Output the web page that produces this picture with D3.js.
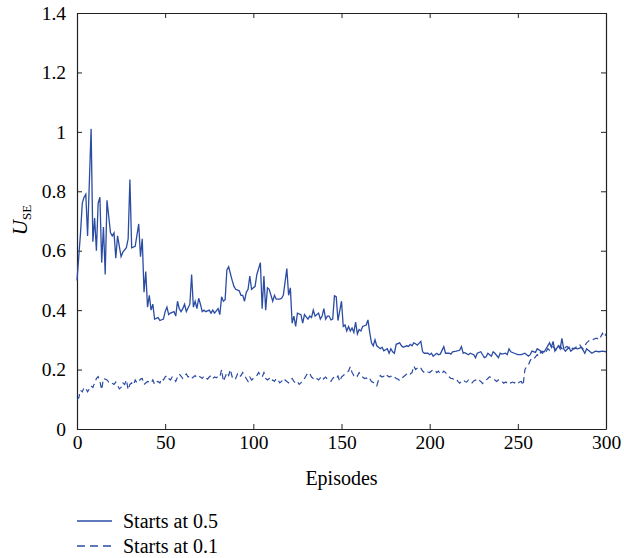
<!DOCTYPE html>
<html>
<head>
<meta charset="utf-8">
<script src="https://cdn.jsdelivr.net/npm/d3@7/dist/d3.min.js"></script>
<style>
  html, body { margin: 0; padding: 0; background: #fff; }
  svg { display: block; }
  svg text { font-family: "Liberation Serif", "Times New Roman", Times, "DejaVu Serif", serif !important; fill: #000; }
</style>
</head>
<body>
<svg id="chart" width="624" height="558"></svg>
<script>
// ---- data ----
const xTicks = [0, 50, 100, 150, 200, 250, 300];
const yTicks = [0, 0.2, 0.4, 0.6, 0.8, 1, 1.2, 1.4];
const seriesNames = ["Starts at 0.5", "Starts at 0.1"];

// Series "Starts at 0.5": episode / value pairs
const solidEpisodes = [0,2,3,4,5,6,8,9,10,11,12,13,14,15,16,17,19,20,21,22,23,25,26,28,29,30,31,33,35,36,37,38,39,40,41,42,43,44,46,47,49,50,51,52,53,55,56,57,58,59,60,61,62,64,65,66,67,68,69,70,71,72,73,75,76,77,78,80,81,82,83,84,85,86,88,89,90,92,93,94,95,96,97,98,99,101,102,104,105,106,107,108,109,111,112,113,115,116,117,119,120,121,122,123,124,125,127,128,129,131,132,133,134,135,137,138,139,140,141,142,143,144,145,146,147,148,150,151,152,153,154,155,156,157,158,159,160,161,162,164,165,166,167,168,169,170,172,173,174,176,177,178,179,180,181,183,184,185,187,188,189,190,191,192,193,195,196,197,199,200,201,202,204,205,206,208,209,211,212,213,215,217,218,219,220,222,223,225,226,227,229,230,231,232,233,235,236,237,239,240,241,243,244,245,246,248,250,252,254,256,257,258,260,261,263,265,266,268,269,270,271,273,274,275,276,277,279,280,282,284,286,288,289,291,292,294,296,298,300];
const solidValues = [0.50,0.66,0.76,0.78,0.79,0.65,1.01,0.63,0.71,0.60,0.76,0.78,0.56,0.68,0.52,0.77,0.66,0.65,0.66,0.575,0.65,0.58,0.595,0.61,0.64,0.84,0.61,0.615,0.69,0.58,0.64,0.46,0.53,0.41,0.45,0.40,0.42,0.37,0.375,0.365,0.37,0.395,0.41,0.385,0.39,0.395,0.38,0.43,0.405,0.395,0.405,0.42,0.395,0.42,0.52,0.41,0.43,0.405,0.44,0.42,0.395,0.40,0.395,0.40,0.39,0.40,0.39,0.405,0.385,0.445,0.43,0.435,0.535,0.546,0.50,0.48,0.47,0.465,0.45,0.45,0.43,0.46,0.47,0.515,0.47,0.48,0.52,0.56,0.405,0.515,0.40,0.475,0.47,0.43,0.45,0.437,0.437,0.44,0.45,0.54,0.45,0.475,0.356,0.38,0.345,0.39,0.385,0.356,0.385,0.37,0.38,0.375,0.40,0.38,0.39,0.37,0.38,0.405,0.37,0.38,0.38,0.367,0.37,0.448,0.445,0.365,0.43,0.345,0.35,0.33,0.345,0.33,0.34,0.325,0.36,0.32,0.335,0.33,0.345,0.35,0.367,0.325,0.29,0.28,0.30,0.28,0.27,0.275,0.263,0.27,0.255,0.27,0.26,0.255,0.285,0.29,0.28,0.275,0.28,0.278,0.285,0.28,0.29,0.287,0.282,0.295,0.26,0.255,0.255,0.25,0.255,0.245,0.255,0.25,0.252,0.277,0.255,0.255,0.252,0.26,0.262,0.265,0.277,0.255,0.257,0.25,0.255,0.25,0.24,0.255,0.26,0.25,0.24,0.243,0.255,0.245,0.26,0.255,0.24,0.255,0.252,0.255,0.25,0.27,0.26,0.255,0.25,0.25,0.255,0.245,0.25,0.262,0.258,0.27,0.262,0.26,0.27,0.29,0.275,0.295,0.262,0.28,0.27,0.305,0.27,0.262,0.275,0.262,0.272,0.27,0.275,0.255,0.27,0.26,0.255,0.262,0.26,0.262,0.26];

// Series "Starts at 0.1": one value per episode 0..300
const dashedValues = [0.10,0.105,0.13,0.125,0.14,0.137,0.125,0.135,0.145,0.14,0.155,0.17,0.176,0.16,0.132,0.17,0.168,0.165,0.158,0.16,0.154,0.15,0.158,0.148,0.135,0.14,0.155,0.15,0.165,0.132,0.15,0.155,0.148,0.165,0.155,0.16,0.168,0.17,0.15,0.155,0.16,0.158,0.155,0.165,0.15,0.158,0.16,0.155,0.17,0.165,0.175,0.18,0.17,0.165,0.175,0.17,0.16,0.175,0.185,0.178,0.17,0.18,0.185,0.175,0.178,0.17,0.175,0.18,0.172,0.177,0.175,0.17,0.178,0.172,0.168,0.175,0.18,0.17,0.175,0.172,0.178,0.175,0.2,0.16,0.175,0.19,0.18,0.2,0.175,0.18,0.17,0.185,0.175,0.18,0.19,0.18,0.17,0.16,0.175,0.165,0.17,0.175,0.18,0.19,0.18,0.175,0.19,0.17,0.165,0.17,0.16,0.165,0.16,0.17,0.165,0.155,0.16,0.17,0.165,0.16,0.155,0.165,0.17,0.16,0.155,0.16,0.15,0.155,0.165,0.17,0.18,0.19,0.187,0.175,0.17,0.175,0.17,0.165,0.172,0.163,0.17,0.175,0.168,0.165,0.16,0.17,0.175,0.17,0.178,0.16,0.175,0.18,0.185,0.19,0.195,0.21,0.19,0.18,0.185,0.178,0.19,0.182,0.175,0.17,0.172,0.165,0.17,0.16,0.157,0.15,0.145,0.165,0.18,0.175,0.178,0.172,0.18,0.175,0.178,0.172,0.175,0.17,0.168,0.163,0.17,0.175,0.18,0.185,0.19,0.185,0.19,0.212,0.2,0.205,0.21,0.205,0.195,0.19,0.195,0.192,0.19,0.195,0.2,0.198,0.19,0.195,0.185,0.187,0.195,0.19,0.18,0.176,0.17,0.17,0.165,0.168,0.16,0.154,0.16,0.165,0.16,0.158,0.165,0.16,0.155,0.162,0.165,0.16,0.165,0.16,0.153,0.16,0.165,0.17,0.176,0.172,0.168,0.165,0.16,0.165,0.165,0.16,0.154,0.158,0.155,0.16,0.155,0.158,0.155,0.16,0.154,0.158,0.16,0.147,0.2,0.21,0.215,0.23,0.238,0.235,0.243,0.25,0.245,0.26,0.255,0.265,0.26,0.27,0.265,0.275,0.277,0.27,0.265,0.275,0.28,0.27,0.265,0.275,0.278,0.27,0.265,0.272,0.27,0.275,0.28,0.285,0.275,0.27,0.28,0.29,0.295,0.3,0.298,0.302,0.305,0.305,0.3,0.31,0.322,0.31,0.32];

(function () {
  const lineColor = "#2b4ca3";
  const svg = d3.select("#chart");
  const mLeft = 77, mRight = 606, mTop = 13, mBottom = 429;

  const x = d3.scaleLinear().domain([0, 300]).range([mLeft, mRight]);
  const y = d3.scaleLinear().domain([0, 1.4]).range([mBottom, mTop]);

  const solidData = solidEpisodes.map((e, i) => [e, solidValues[i]]);
  const dashedData = dashedValues.map((v, i) => [i, v]);

  const line = d3.line().x(d => x(d[0])).y(d => y(d[1]));
  const fmtY = d => (d === 0 || d === 1) ? String(d) : d3.format(".1f")(d);

  const axStyle = g => {
    g.attr("font-family", null);
    g.selectAll("path.domain").attr("stroke", "#222").attr("stroke-width", 1.2);
    g.selectAll(".tick line").attr("stroke", "#222").attr("stroke-width", 1);
    g.selectAll(".tick text").attr("font-size", 19.5).attr("fill", "#000");
  };

  svg.append("g").attr("transform", `translate(0,${mBottom})`)
    .call(d3.axisBottom(x).tickValues(xTicks).tickSizeInner(-5).tickSizeOuter(0).tickPadding(6).tickFormat(d3.format("d")))
    .call(axStyle);
  svg.append("g").attr("transform", `translate(0,${mTop})`)
    .call(d3.axisTop(x).tickValues(xTicks).tickSizeInner(-5).tickSizeOuter(0).tickFormat(""))
    .call(axStyle);
  svg.append("g").attr("transform", `translate(${mLeft},0)`)
    .call(d3.axisLeft(y).tickValues(yTicks).tickSizeInner(-5).tickSizeOuter(0).tickPadding(11).tickFormat(fmtY))
    .call(axStyle);
  svg.append("g").attr("transform", `translate(${mRight},0)`)
    .call(d3.axisRight(y).tickValues(yTicks).tickSizeInner(-5).tickSizeOuter(0).tickFormat(""))
    .call(axStyle);

  svg.append("path").datum(dashedData)
    .attr("fill", "none").attr("stroke", lineColor).attr("stroke-width", 1.2)
    .attr("stroke-dasharray", "6,4").attr("d", line);
  svg.append("path").datum(solidData)
    .attr("fill", "none").attr("stroke", lineColor).attr("stroke-width", 1.3)
    .attr("d", line);

  svg.append("text").attr("x", (mLeft + mRight) / 2).attr("y", 485)
    .attr("text-anchor", "middle").attr("font-size", 20).text("Episodes");

  const yl = svg.append("text").attr("transform", "translate(27,220) rotate(-90)")
    .attr("text-anchor", "middle").attr("font-size", 21);
  yl.append("tspan").attr("font-style", "italic").text("U");
  yl.append("tspan").attr("font-size", 13).attr("dy", 4).text("SE");

  const legend = svg.append("g");
  seriesNames.forEach((name, i) => {
    const ly = 521 + i * 25;
    legend.append("line").attr("x1", 77).attr("x2", 112).attr("y1", ly).attr("y2", ly)
      .attr("stroke", lineColor).attr("stroke-width", 1.3)
      .attr("stroke-dasharray", i === 1 ? "8,5" : null);
    legend.append("text").attr("x", 123).attr("y", ly + 6.5).attr("font-size", 20).text(name);
  });
})();
</script>
</body>
</html>
